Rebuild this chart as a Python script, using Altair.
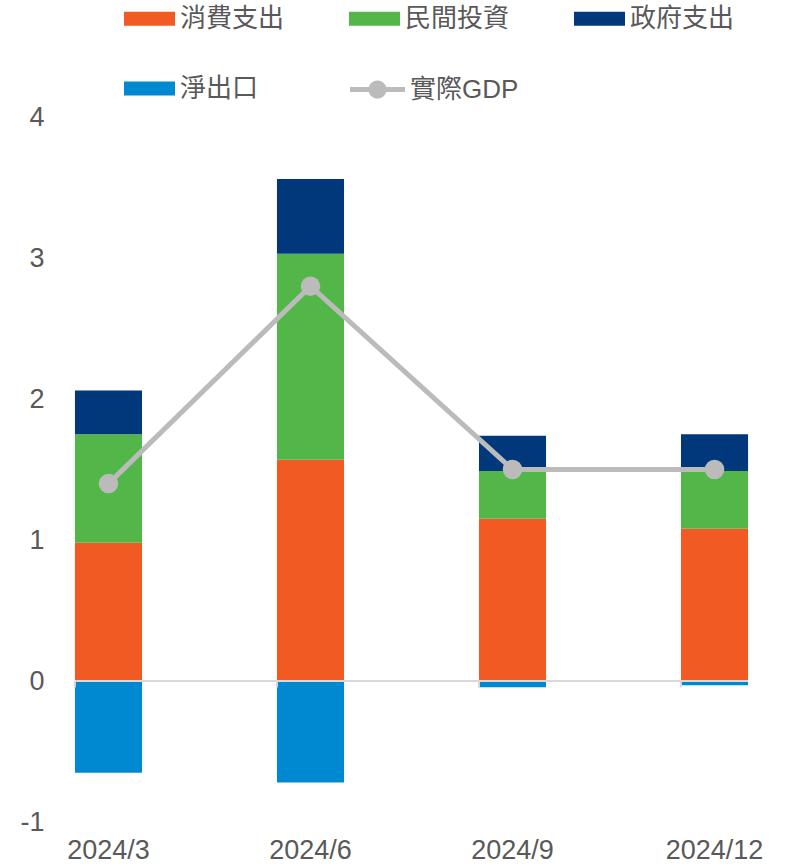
import altair as alt
import pandas as pd

dates = ["2024/3", "2024/6", "2024/9", "2024/12"]
components = ["消費支出", "民間投資", "政府支出", "淨出口"]
consumption = [0.98, 1.57, 1.15, 1.08]
private_inv = [0.77, 1.46, 0.34, 0.41]
government = [0.31, 0.53, 0.25, 0.26]
net_exports = [-0.65, -0.72, -0.045, -0.03]
gdp = [1.40, 2.80, 1.50, 1.50]
colors = ["#F15A22", "#52B748", "#00387B", "#0089D0"]
gdp_color = "#BBBBBB"
axis_color = "#D9D9D9"

FONT = "Liberation Sans, Arial, Noto Sans CJK TC"
TXT = "#595959"

rows = []
for i, d in enumerate(dates):
    for k, (name, vals) in enumerate(zip(components, [consumption, private_inv, government, net_exports])):
        rows.append({"date": d, "comp": name, "value": vals[i], "ord": k})
bars_df = pd.DataFrame(rows)
gdp_df = pd.DataFrame({"date": dates, "gdp": gdp, "series": ["實際GDP"] * len(dates)})

xscale = alt.Scale(domain=dates, paddingInner=0.668, paddingOuter=0.074)
yscale = alt.Scale(domain=[-1, 4], nice=False, zero=False)

rect_path = "M-1,-0.27L1,-0.27L1,0.27L-1,0.27Z"
gdp_path = ("M-1,-0.09L1,-0.09L1,0.09L-1,0.09Z "
            "M-0.33,0A0.33,0.33 0 1,1 0.33,0A0.33,0.33 0 1,1 -0.33,0Z")

x_enc = alt.X("date:N", scale=xscale, sort=dates,
              axis=alt.Axis(title=None, labelAngle=0, domain=False, ticks=False,
                            labelFontSize=27, labelColor=TXT, labelFont=FONT,
                            labelPadding=15))

bars = alt.Chart(bars_df).mark_bar().encode(
    x=x_enc,
    y=alt.Y("value:Q", scale=yscale, stack="zero",
            axis=alt.Axis(title=None, values=[-1, 0, 1, 2, 3, 4], grid=False,
                          domain=False, ticks=False, labelFontSize=27,
                          labelExpr="datum.value + ''",
                          labelColor=TXT, labelFont=FONT, labelPadding=16)),
    color=alt.Color("comp:N",
                    scale=alt.Scale(domain=components, range=colors),
                    legend=alt.Legend(title=None, orient="none", legendX=64, legendY=-124,
                                      values=components, direction="horizontal",
                                      columns=3, symbolType=rect_path, symbolSize=2601,
                                      symbolStrokeWidth=0, labelFontSize=26,
                                      labelColor=TXT, labelFont=FONT, columnPadding=64,
                                      rowPadding=31, labelOffset=5)),
    order=alt.Order("ord:Q"),
)

zero = alt.Chart(pd.DataFrame({"y": [0]})).mark_rule(color=axis_color, strokeWidth=2).encode(
    x=alt.X(datum="2024/3", bandPosition=0, scale=xscale),
    x2=alt.X2(datum="2024/12", bandPosition=1),
    y=alt.Y("y:Q", scale=yscale),
)

ticks = alt.Chart(pd.DataFrame({"date": dates})).mark_rule(color=axis_color, strokeWidth=2).encode(
    x=alt.X("date:N", scale=xscale, sort=dates, bandPosition=0),
    y=alt.Y(datum=0, scale=yscale),
    y2=alt.Y2(datum=-0.045),
)

line = alt.Chart(gdp_df).mark_line(strokeWidth=5, color=gdp_color).encode(
    x=alt.X("date:N", scale=xscale, sort=dates),
    y=alt.Y("gdp:Q", scale=yscale),
)
points = alt.Chart(gdp_df).mark_circle(size=380, opacity=1).encode(
    x=alt.X("date:N", scale=xscale, sort=dates),
    y=alt.Y("gdp:Q", scale=yscale),
    fill=alt.Fill("series:N", scale=alt.Scale(range=[gdp_color]),
                  legend=alt.Legend(title=None, orient="none", legendX=290, legendY=-55,
                                    symbolType=gdp_path, symbolSize=3025,
                                    symbolStrokeWidth=0, symbolOpacity=1,
                                    labelFontSize=26,
                                    labelColor=TXT, labelFont=FONT, labelOffset=5)),
)

chart = alt.layer(bars, ticks, zero, line, points).resolve_scale(
    color="independent", fill="independent"
).properties(
    width=703, height=705,
    autosize=alt.AutoSizeParams(type="none"),
    padding={"left": 60, "top": 117, "right": 32, "bottom": 45},
).configure_view(stroke=None)

chart.save("out.html", embed_options={"renderer": "svg", "actions": False})
